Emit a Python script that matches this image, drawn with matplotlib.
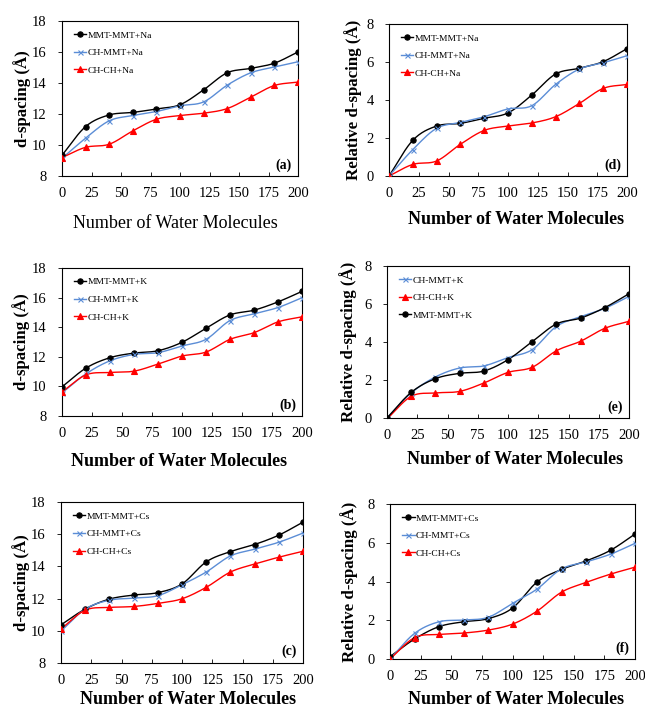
import numpy as np
import matplotlib
matplotlib.use("Agg")
import matplotlib.pyplot as plt
from matplotlib.lines import Line2D

plt.rcParams["font.family"] = ["Liberation Serif", "DejaVu Serif"]

water = [0, 20, 40, 60, 80, 100, 120, 140, 160, 180, 200]
xticks = [0, 25, 50, 75, 100, 125, 150, 175, 200]

# d-spacing (Å)
d_mmt_na = [9.34, 11.19, 11.94, 12.10, 12.33, 12.60, 13.56, 14.66, 14.94, 15.28, 16.00]
d_chmmt_na = [9.14, 10.44, 11.56, 11.90, 12.16, 12.53, 12.78, 13.86, 14.66, 15.03, 15.37]
d_chch_na = [9.19, 9.85, 10.05, 10.91, 11.66, 11.90, 12.05, 12.35, 13.09, 13.84, 14.06]

d_mmt_k = [9.97, 11.24, 11.94, 12.25, 12.41, 12.98, 13.93, 14.83, 15.15, 15.71, 16.42]
d_chmmt_k = [9.56, 10.85, 11.73, 12.16, 12.28, 12.73, 13.18, 14.45, 14.90, 15.33, 15.99]
d_chch_k = [9.63, 10.78, 10.94, 11.03, 11.51, 12.05, 12.32, 13.18, 13.63, 14.36, 14.70]

d_mmt_cs = [10.37, 11.35, 11.97, 12.22, 12.37, 12.91, 14.28, 14.92, 15.36, 15.94, 16.75]
d_chmmt_cs = [9.98, 11.35, 11.90, 12.03, 12.18, 12.86, 13.65, 14.65, 15.07, 15.50, 16.07]
d_chch_cs = [10.12, 11.28, 11.45, 11.51, 11.70, 11.99, 12.70, 13.65, 14.15, 14.57, 14.94]

# relative d-spacing (Å)
r_mmt_na = [0.00, 1.88, 2.63, 2.77, 3.04, 3.32, 4.26, 5.37, 5.67, 6.02, 6.70]
r_chmmt_na = [0.00, 1.39, 2.51, 2.82, 3.12, 3.53, 3.70, 4.82, 5.63, 5.96, 6.33]
r_chch_na = [0.00, 0.61, 0.79, 1.67, 2.40, 2.63, 2.79, 3.12, 3.82, 4.61, 4.82]

r_chmmt_k = [0.00, 1.32, 2.16, 2.63, 2.74, 3.18, 3.60, 4.82, 5.33, 5.77, 6.40]
r_chch_k = [-0.05, 1.14, 1.32, 1.40, 1.84, 2.40, 2.67, 3.54, 4.04, 4.72, 5.09]
r_mmt_k = [0.00, 1.35, 2.07, 2.35, 2.47, 3.07, 4.02, 4.95, 5.26, 5.81, 6.54]

r_mmt_cs = [0.12, 1.03, 1.67, 1.92, 2.08, 2.63, 3.97, 4.62, 5.06, 5.61, 6.45]
r_chmmt_cs = [0.00, 1.32, 1.92, 2.01, 2.15, 2.87, 3.61, 4.65, 5.01, 5.41, 5.97]
r_chch_cs = [0.00, 1.10, 1.27, 1.34, 1.49, 1.80, 2.47, 3.45, 3.95, 4.38, 4.74]

BLACK = "#000000"
BLUE = "#5b8dd6"
RED = "#ff0000"
STYLE = {
    "MMT-MMT": dict(color=BLACK, marker="o", ms=3.8, mew=0.8),
    "CH-MMT": dict(color=BLUE, marker="x", ms=3.6, mew=0.8),
    "CH-CH": dict(color=RED, marker="^", ms=3.8, mew=0.8),
}

W, H = 645, 710


def smooth(x, y, n=24):
    """Catmull-Rom curve through the data points."""
    x = np.asarray(x, float)
    y = np.asarray(y, float)
    px = np.concatenate([[2 * x[0] - x[1]], x, [2 * x[-1] - x[-2]]])
    py = np.concatenate([[2 * y[0] - y[1]], y, [2 * y[-1] - y[-2]]])
    xs, ys = [], []
    t = np.linspace(0, 1, n, endpoint=False)
    for i in range(1, len(px) - 2):
        for arr, out in ((px, xs), (py, ys)):
            p0, p1, p2, p3 = arr[i - 1], arr[i], arr[i + 1], arr[i + 2]
            out.extend(0.5 * ((2 * p1) + (-p0 + p2) * t
                              + (2 * p0 - 5 * p1 + 4 * p2 - p3) * t ** 2
                              + (-p0 + 3 * p1 - 3 * p2 + p3) * t ** 3))
    xs.append(x[-1])
    ys.append(y[-1])
    return np.array(xs), np.array(ys)


def make_axes(left, top, right, bottom):
    return fig.add_axes([left / W, (H - bottom) / H, (right - left) / W, (bottom - top) / H])


def panel(ax, series, ylim, yticks, ylabel, tag, ion, xlabel_bold, ylab_x, xlab_xy):
    for name, vals in series:
        st = STYLE[name]
        sx, sy = smooth(water, vals)
        ax.plot(sx, sy, color=st["color"], lw=1.0, zorder=2)
        ax.plot(water, vals, ls="none", color=st["color"], marker=st["marker"],
                ms=st["ms"], mew=st["mew"], zorder=3)
    ax.set_xlim(0, 200)
    ax.set_ylim(*ylim)
    ax.set_xticks(xticks)
    ax.set_yticks(yticks)
    ax.tick_params(axis="x", direction="in", length=3, width=0.6, labelsize=10.5, pad=8)
    ax.tick_params(axis="y", direction="out", length=3, width=0.6, labelsize=10.5, pad=8)
    for s in ax.spines.values():
        s.set_linewidth(0.8)
    handles = []
    for name, _ in series:
        st = STYLE[name]
        handles.append(Line2D([], [], color=st["color"], lw=1.0, marker=st["marker"],
                              ms=st["ms"], mew=st["mew"]))
    labels = [f"{name}+{ion}" for name, _ in series]
    ax.legend(handles, labels, loc="upper left", frameon=False, fontsize=6.8,
              handlelength=1.3, handletextpad=0.15, labelspacing=0.95,
              borderaxespad=0.25, bbox_to_anchor=(0.025, 0.975))
    ax.text(0.975, 0.07, tag, transform=ax.transAxes, ha="right", va="center",
            fontsize=10, fontweight="bold")
    # axis titles placed in figure pixels
    bb = ax.get_position()
    ax_top = (1 - bb.y1) * H
    ax_bot = (1 - bb.y0) * H
    fig.text(ylab_x / W, 1 - (ax_top + ax_bot) / 2 / H, ylabel, rotation=90,
             ha="center", va="center", fontsize=12.2, fontweight="bold")
    fig.text(xlab_xy[0] / W, 1 - xlab_xy[1] / H, "Number of Water Molecules",
             ha="center", va="center", fontsize=13,
             fontweight="bold" if xlabel_bold else "normal")


fig = plt.figure(figsize=(W / 100, H / 100), dpi=100)

d_label = "d-spacing (Å)"
r_label = "Relative d-spacing (Å)"

ax_a = make_axes(62, 21, 298, 176)
panel(ax_a, [("MMT-MMT", d_mmt_na), ("CH-MMT", d_chmmt_na), ("CH-CH", d_chch_na)],
      (8, 18), [8, 10, 12, 14, 16, 18], d_label, "(a)", "Na", False, 22, (175, 224))

ax_d = make_axes(389, 24, 627, 176)
panel(ax_d, [("MMT-MMT", r_mmt_na), ("CH-MMT", r_chmmt_na), ("CH-CH", r_chch_na)],
      (0, 8), [0, 2, 4, 6, 8], r_label, "(d)", "Na", True, 353, (516, 219))

ax_b = make_axes(62, 268, 302, 416)
panel(ax_b, [("MMT-MMT", d_mmt_k), ("CH-MMT", d_chmmt_k), ("CH-CH", d_chch_k)],
      (8, 18), [8, 10, 12, 14, 16, 18], d_label, "(b)", "K", True, 21, (179, 462))

ax_e = make_axes(387, 266, 629, 418)
panel(ax_e, [("CH-MMT", r_chmmt_k), ("CH-CH", r_chch_k), ("MMT-MMT", r_mmt_k)],
      (0, 8), [0, 2, 4, 6, 8], r_label, "(e)", "K", True, 348, (515, 460))

ax_c = make_axes(61, 502, 303, 663)
panel(ax_c, [("MMT-MMT", d_mmt_cs), ("CH-MMT", d_chmmt_cs), ("CH-CH", d_chch_cs)],
      (8, 18), [8, 10, 12, 14, 16, 18], d_label, "(c)", "Cs", True, 21, (188, 700))

ax_f = make_axes(390, 504, 635, 659)
panel(ax_f, [("MMT-MMT", r_mmt_cs), ("CH-MMT", r_chmmt_cs), ("CH-CH", r_chch_cs)],
      (0, 8), [0, 2, 4, 6, 8], r_label, "(f)", "Cs", True, 349, (516, 700))

fig.savefig("out.png", dpi=100)
